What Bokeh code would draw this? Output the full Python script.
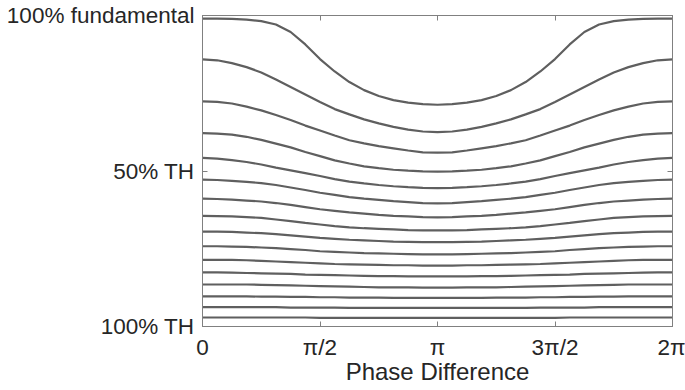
from bokeh.plotting import figure
from bokeh.models import Range1d, FixedTicker, LinearAxis
from bokeh.embed import file_html
from bokeh.resources import INLINE

# phase in units of pi (0 .. 2pi, steps of pi/16)
phase_over_pi = [0, 0.0625, 0.125, 0.1875, 0.25, 0.3125, 0.375, 0.4375, 0.5, 0.5625, 0.625,
                 0.6875, 0.75, 0.8125, 0.875, 0.9375, 1.0, 1.0625, 1.125, 1.1875, 1.25, 1.3125,
                 1.375, 1.4375, 1.5, 1.5625, 1.625, 1.6875, 1.75, 1.8125, 1.875, 1.9375, 2.0]

# levels, in % of the range from "100% TH" (0) to "100% fundamental" (100)
curve_01 = [99.0, 99.0, 98.9, 98.7, 98.2, 97.1, 94.7, 90.7, 86.0, 82.0, 78.6, 76.0, 74.1, 72.8, 72.0, 71.5, 71.3,
            71.5, 72.0, 72.8, 74.1, 76.0, 78.6, 82.0, 86.0, 90.7, 94.7, 97.1, 98.2, 98.7, 98.9, 99.0, 99.0]
curve_02 = [85.9, 85.6, 84.7, 83.4, 81.7, 79.4, 77.0, 74.6, 72.2, 69.9, 68.2, 66.6, 65.3, 64.2, 63.3, 62.7, 62.5,
            62.7, 63.3, 64.2, 65.3, 66.6, 68.2, 69.9, 72.2, 74.6, 77.0, 79.4, 81.7, 83.4, 84.7, 85.6, 85.9]
curve_03 = [72.4, 72.2, 71.7, 70.7, 69.5, 68.0, 66.4, 64.6, 63.0, 61.4, 59.9, 58.9, 58.0, 57.3, 56.6, 56.0, 55.9,
            56.0, 56.6, 57.3, 58.0, 58.9, 59.9, 61.4, 63.0, 64.6, 66.4, 68.0, 69.5, 70.7, 71.7, 72.2, 72.4]
curve_04 = [62.2, 62.0, 61.7, 61.0, 60.0, 58.8, 57.6, 56.1, 54.8, 53.4, 52.4, 51.5, 50.9, 50.4, 50.1, 49.9, 49.8,
            49.9, 50.1, 50.4, 50.9, 51.5, 52.4, 53.4, 54.8, 56.1, 57.6, 58.8, 60.0, 61.0, 61.7, 62.0, 62.2]
curve_05 = [54.2, 54.0, 53.5, 52.9, 52.1, 51.1, 50.2, 49.3, 48.4, 47.4, 46.6, 46.0, 45.5, 45.1, 44.8, 44.6, 44.5,
            44.6, 44.8, 45.1, 45.5, 46.0, 46.6, 47.4, 48.4, 49.3, 50.2, 51.1, 52.1, 52.9, 53.5, 54.0, 54.2]
curve_06 = [47.2, 47.1, 46.8, 46.5, 46.1, 45.5, 44.7, 43.9, 43.0, 42.3, 41.6, 41.1, 40.7, 40.3, 40.0, 39.7, 39.6,
            39.7, 40.0, 40.3, 40.7, 41.1, 41.6, 42.3, 43.0, 43.9, 44.7, 45.5, 46.1, 46.5, 46.8, 47.1, 47.2]
curve_07 = [41.1, 41.0, 40.8, 40.5, 40.2, 39.7, 39.1, 38.4, 37.7, 37.2, 36.7, 36.3, 35.9, 35.6, 35.4, 35.2, 35.1,
            35.2, 35.4, 35.6, 35.9, 36.3, 36.7, 37.2, 37.7, 38.4, 39.1, 39.7, 40.2, 40.5, 40.8, 41.0, 41.1]
curve_08 = [35.6, 35.5, 35.4, 35.2, 34.9, 34.4, 33.9, 33.3, 32.8, 32.3, 31.9, 31.6, 31.4, 31.2, 31.0, 30.9, 30.9,
            30.9, 31.0, 31.2, 31.4, 31.6, 31.9, 32.3, 32.8, 33.3, 33.9, 34.4, 34.9, 35.2, 35.4, 35.5, 35.6]
curve_09 = [30.5, 30.5, 30.4, 30.2, 30.0, 29.7, 29.3, 28.9, 28.5, 28.2, 27.9, 27.7, 27.5, 27.3, 27.2, 27.1, 27.1,
            27.1, 27.2, 27.3, 27.5, 27.7, 27.9, 28.2, 28.5, 28.9, 29.3, 29.7, 30.0, 30.2, 30.4, 30.5, 30.5]
curve_10 = [25.8, 25.8, 25.7, 25.6, 25.4, 25.2, 24.9, 24.6, 24.2, 24.0, 23.8, 23.6, 23.5, 23.4, 23.3, 23.2, 23.2,
            23.2, 23.3, 23.4, 23.5, 23.6, 23.8, 24.0, 24.2, 24.6, 24.9, 25.2, 25.4, 25.6, 25.7, 25.8, 25.8]
curve_11 = [21.4, 21.4, 21.4, 21.3, 21.1, 20.9, 20.7, 20.5, 20.3, 20.1, 20.0, 19.9, 19.8, 19.7, 19.7, 19.6, 19.6,
            19.6, 19.7, 19.7, 19.8, 19.9, 20.0, 20.1, 20.3, 20.5, 20.7, 20.9, 21.1, 21.3, 21.4, 21.4, 21.4]
curve_12 = [17.4, 17.4, 17.3, 17.2, 17.1, 17.0, 16.9, 16.7, 16.6, 16.5, 16.4, 16.3, 16.2, 16.2, 16.1, 16.1, 16.1,
            16.1, 16.1, 16.2, 16.2, 16.3, 16.4, 16.5, 16.6, 16.7, 16.9, 17.0, 17.1, 17.2, 17.3, 17.4, 17.4]
curve_13 = [13.5, 13.5, 13.5, 13.5, 13.4, 13.3, 13.2, 13.1, 13.0, 12.9, 12.8, 12.7, 12.6, 12.6, 12.6, 12.5, 12.5,
            12.5, 12.6, 12.6, 12.6, 12.7, 12.8, 12.9, 13.0, 13.1, 13.2, 13.3, 13.4, 13.5, 13.5, 13.5, 13.5]
curve_14 = [9.7, 9.7, 9.7, 9.7, 9.6, 9.6, 9.5, 9.5, 9.4, 9.4, 9.3, 9.3, 9.3, 9.2, 9.2, 9.2, 9.2,
            9.2, 9.2, 9.2, 9.3, 9.3, 9.3, 9.4, 9.4, 9.5, 9.5, 9.6, 9.6, 9.7, 9.7, 9.7, 9.7]
curve_15 = [6.2, 6.2, 6.2, 6.2, 6.2, 6.2, 6.1, 6.1, 6.1, 6.1, 6.0, 6.0, 6.0, 6.0, 6.0, 6.0, 6.0,
            6.0, 6.0, 6.0, 6.0, 6.0, 6.0, 6.1, 6.1, 6.1, 6.1, 6.2, 6.2, 6.2, 6.2, 6.2, 6.2]
curve_16 = [2.9, 2.9, 2.9, 2.9, 2.9, 2.9, 2.9, 2.9, 2.8, 2.8, 2.8, 2.8, 2.8, 2.8, 2.8, 2.8, 2.8,
            2.8, 2.8, 2.8, 2.8, 2.8, 2.8, 2.8, 2.8, 2.9, 2.9, 2.9, 2.9, 2.9, 2.9, 2.9, 2.9]

curves = [curve_01, curve_02, curve_03, curve_04, curve_05, curve_06, curve_07, curve_08,
          curve_09, curve_10, curve_11, curve_12, curve_13, curve_14, curve_15, curve_16]

x_ticks = [0, 0.5, 1, 1.5, 2]
x_tick_labels = ["0", "π/2", "π", "3π/2", "2π"]
y_ticks = [0, 50, 100]
y_tick_labels = ["100% TH", "50% TH", "100% fundamental"]
x_title = "Phase Difference"

FONT = "Liberation Sans"
AXIS_COLOR = "#808080"
TEXT_COLOR = "#262626"
LINE_COLOR = "#5f5f5f"

p = figure(width=685, height=390, output_backend="svg", toolbar_location=None,
           x_range=Range1d(0, 2), y_range=Range1d(0, 100),
           min_border_left=202, min_border_right=13, min_border_top=15, min_border_bottom=64,
           x_axis_label=x_title)
p.grid.visible = False
p.outline_line_color = AXIS_COLOR
p.background_fill_color = "white"
p.border_fill_color = "white"

for c in curves:
    p.line(phase_over_pi, c, line_color=LINE_COLOR, line_width=2.2)

def style_axis(ax, ticks):
    ax.ticker = FixedTicker(ticks=ticks)
    ax.axis_line_color = AXIS_COLOR
    ax.major_tick_line_color = AXIS_COLOR
    ax.major_tick_in = 5
    ax.major_tick_out = 0
    ax.minor_tick_in = 0
    ax.minor_tick_out = 0
    ax.minor_tick_line_color = None
    ax.major_label_text_font = FONT
    ax.major_label_text_font_size = "22.5px"
    ax.major_label_text_color = TEXT_COLOR

xa = p.xaxis[0]
style_axis(xa, x_ticks)
xa.major_label_overrides = {t: l for t, l in zip(x_ticks, x_tick_labels)}
xa.major_label_standoff = 8
xa.axis_label_text_font = FONT
xa.axis_label_text_font_size = "24px"
xa.axis_label_text_font_style = "normal"
xa.axis_label_text_color = TEXT_COLOR
xa.axis_label_standoff = -5

ya = p.yaxis[0]
style_axis(ya, y_ticks)
ya.major_label_overrides = {t: l for t, l in zip(y_ticks, y_tick_labels)}
ya.major_label_standoff = 8

top = LinearAxis()
style_axis(top, x_ticks)
top.major_label_text_font_size = "1px"
top.major_label_text_color = None
top.major_label_standoff = 0
p.add_layout(top, "above")

right = LinearAxis()
style_axis(right, y_ticks)
right.major_label_text_font_size = "1px"
right.major_label_text_color = None
right.major_label_standoff = 0
p.add_layout(right, "right")

open("out.html", "w").write(file_html(p, INLINE))
